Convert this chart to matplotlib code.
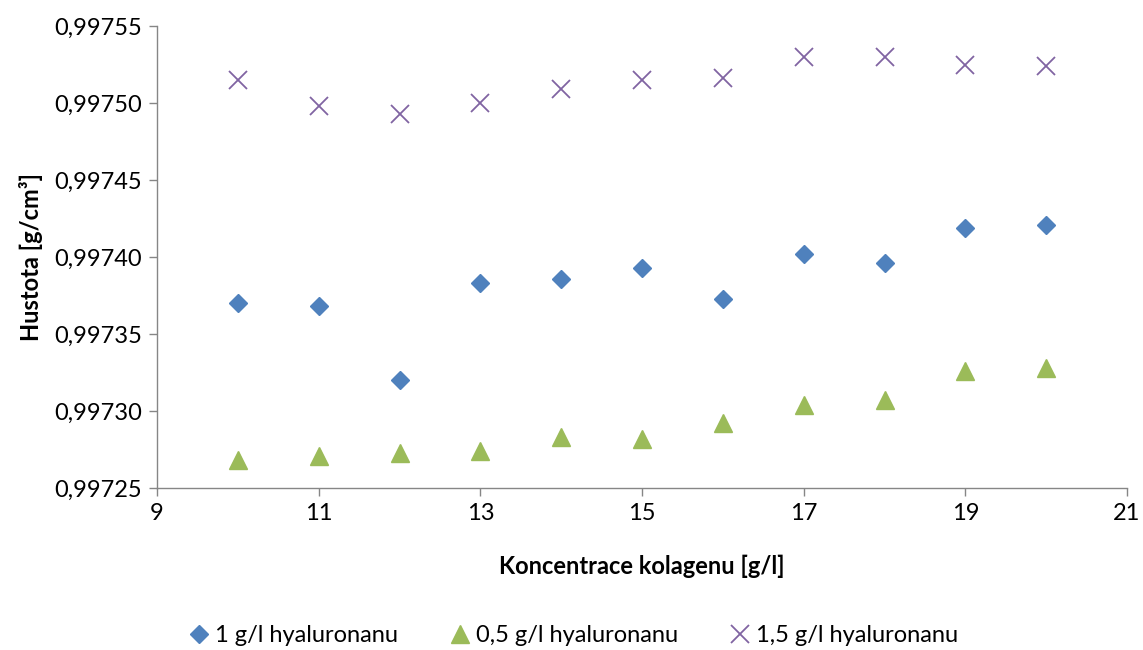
import matplotlib
matplotlib.use("Agg")
import matplotlib.pyplot as plt
from matplotlib.ticker import FuncFormatter

x = [10, 11, 12, 13, 14, 15, 16, 17, 18, 19, 20]
hy_1 = [0.997370, 0.997368, 0.997320, 0.997383, 0.997386, 0.997393,
        0.997373, 0.997402, 0.997396, 0.997419, 0.997421]
hy_05 = [0.997268, 0.997271, 0.997273, 0.997274, 0.997283, 0.997282,
         0.997292, 0.997304, 0.997307, 0.997326, 0.997328]
hy_15 = [0.997515, 0.997498, 0.997493, 0.997500, 0.997509, 0.997515,
         0.997516, 0.997530, 0.997530, 0.997525, 0.997524]
labels = ["1 g/l hyaluronanu", "0,5 g/l hyaluronanu", "1,5 g/l hyaluronanu"]

plt.rcParams['font.family'] = ['Lato', 'DejaVu Sans']

fig = plt.figure(figsize=(11.43, 6.5), dpi=100)
ax = fig.add_axes([0.1374, 0.2492, 0.8486, 0.7108])

ax.plot(x, hy_1, linestyle='none', marker='D', ms=9, color='#4F81BD', label=labels[0])
ax.plot(x, hy_05, linestyle='none', marker='^', ms=13, color='#9BBB59', label=labels[1])
ax.plot(x, hy_15, linestyle='none', marker='x', ms=13, mew=1.3, color='#8064A2', label=labels[2])

ax.set_xlim(9, 21)
ax.set_ylim(0.99725, 0.99755)
ax.set_xticks(range(9, 22, 2))
ax.set_yticks([0.99725 + i * 0.00005 for i in range(7)])
ax.yaxis.set_major_formatter(FuncFormatter(lambda v, p: f"{v:.5f}".replace('.', ',')))

for s in ['top', 'right']:
    ax.spines[s].set_visible(False)
for s in ['left', 'bottom']:
    ax.spines[s].set_color('#868686')
    ax.spines[s].set_linewidth(1.0)
ax.tick_params(axis='both', colors='#868686', length=6, width=1.0, labelsize=17, labelcolor='black')
ax.tick_params(axis='y', pad=5)
ax.tick_params(axis='x', pad=5)

ax.set_xlabel("Koncentrace kolagenu [g/l]", fontsize=17, fontweight='bold', labelpad=22)
ax.set_ylabel("Hustota [g/cm³]", fontsize=17, fontweight='bold', labelpad=8)

fig.legend(loc='center', bbox_to_anchor=(0.5, 0.022), ncol=3, frameon=False, fontsize=17,
           handletextpad=0.1, columnspacing=2.0, handlelength=1.2, numpoints=1)

fig.savefig("out.png", dpi=100)
